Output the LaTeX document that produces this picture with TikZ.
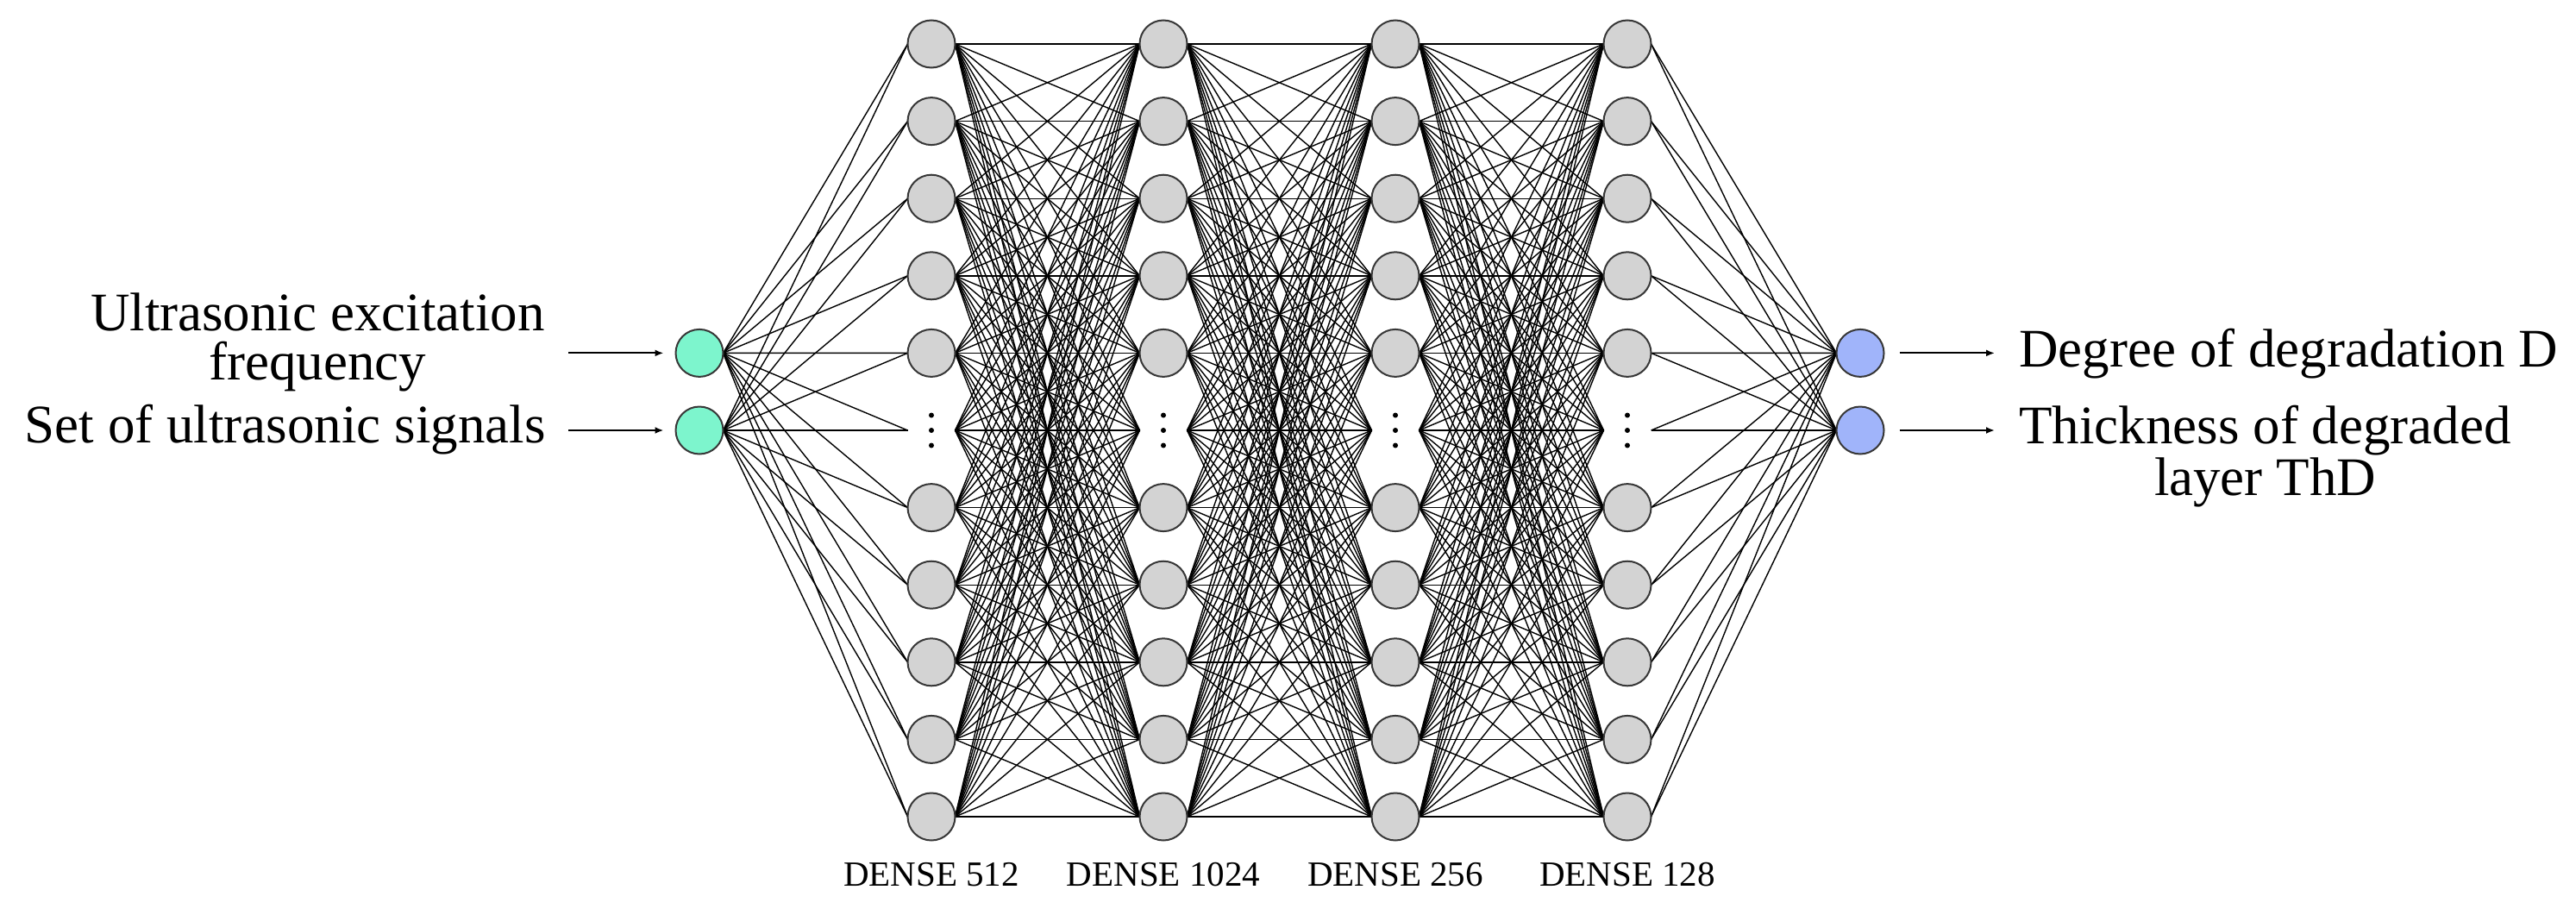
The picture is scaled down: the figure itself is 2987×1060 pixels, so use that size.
\documentclass[tikz,border=0pt]{standalone}
\usepackage{fontspec}
\setmainfont{Liberation Serif}
\newfontfamily\bigserif{Liberation Serif}
\usetikzlibrary{arrows.meta}
\pgfdeclarelayer{bg}
\pgfsetlayers{bg,main}
\definecolor{incol}{RGB}{125,245,205}
\definecolor{outcol}{RGB}{160,180,250}
\definecolor{hidcol}{RGB}{211,211,211}
\definecolor{rimcol}{RGB}{55,55,55}
\begin{document}
\begin{tikzpicture}[x=0.5pt,y=-0.5pt,
  neuron/.style={circle, draw=rimcol, line width=1pt, minimum size=27.5pt, inner sep=0pt, outer sep=0pt},
  hid/.style={neuron, fill=hidcol},
  innode/.style={neuron, fill=incol},
  outnode/.style={neuron, fill=outcol},
  gapnode/.style={circle, minimum size=27.5pt, inner sep=0pt, outer sep=0pt},
  edge/.style={black, line width=0.7pt},
  arr/.style={black, line width=1pt, -{Latex[length=5pt,width=4pt]}},
  big/.style={font=\bigserif\fontsize{31.5}{28.5}\selectfont, inner sep=0pt, align=center},
  layerlbl/.style={font=\bigserif\fontsize{20.5}{20.5}\selectfont, inner sep=0pt, anchor=base}]
\useasboundingbox (0,0) rectangle (2987,1060);
% hidden layers
\foreach \l/\x in {1/1080,2/1349,3/1618,4/1887} {
  \foreach \k in {0,...,10} {
    \pgfmathsetmacro\yy{51+89.6*\k}
    \ifnum\k=5
      \node[gapnode] (h\l-\k) at (\x,\yy) {};
    \else
      \node[hid] (h\l-\k) at (\x,\yy) {};
    \fi
  }
  \fill ([yshift=8.75pt]h\l-5.center) circle (1.5pt);
  \fill (h\l-5.center) circle (1.5pt);
  \fill ([yshift=-8.75pt]h\l-5.center) circle (1.5pt);
}
% inputs and outputs
\node[innode] (in1) at (811,409.4) {};
\node[innode] (in2) at (811,499) {};
\node[outnode] (out1) at (2157,409.4) {};
\node[outnode] (out2) at (2157,499) {};
% connections
\begin{pgfonlayer}{bg}
\foreach \i in {1,2} \foreach \k in {0,...,10} \draw[edge] (in\i.east) -- (h1-\k.west);
\foreach \l/\m in {1/2,2/3,3/4} \foreach \i in {0,...,10} \foreach \j in {0,...,10} \draw[edge] (h\l-\i.east) -- (h\m-\j.west);
\foreach \k in {0,...,10} \foreach \o in {1,2} \draw[edge] (h4-\k.east) -- (out\o.west);
\end{pgfonlayer}
% input texts and arrows
\node[big, anchor=base east] (t1) at (632,440) {Ultrasonic excitation\\frequency};
\node[big, anchor=base east] (t2) at (633,513) {Set of ultrasonic signals};
\coordinate (a1) at (659,409.4);
\coordinate (a2) at (659,499);
\draw[arr, shorten >=7pt] (a1) -- (in1.west);
\draw[arr, shorten >=7pt] (a2) -- (in2.west);
% output texts and arrows
\coordinate (b1) at (2313,409.4);
\coordinate (b2) at (2313,499);
\draw[arr, shorten <=9pt] (out1.east) -- (b1);
\draw[arr, shorten <=9pt] (out2.east) -- (b2);
\node[big, anchor=base west] (o1) at (2341,425) {Degree of degradation D};
\node[big, anchor=base west] (o2) at (2341,574) {Thickness of degraded\\layer ThD};
% layer labels
\node[layerlbl] (d1) at (1080,1027) {DENSE 512};
\node[layerlbl] (d2) at (1349,1027) {DENSE 1024};
\node[layerlbl] (d3) at (1618,1027) {DENSE 256};
\node[layerlbl] (d4) at (1887,1027) {DENSE 128};
\end{tikzpicture}
\end{document}
